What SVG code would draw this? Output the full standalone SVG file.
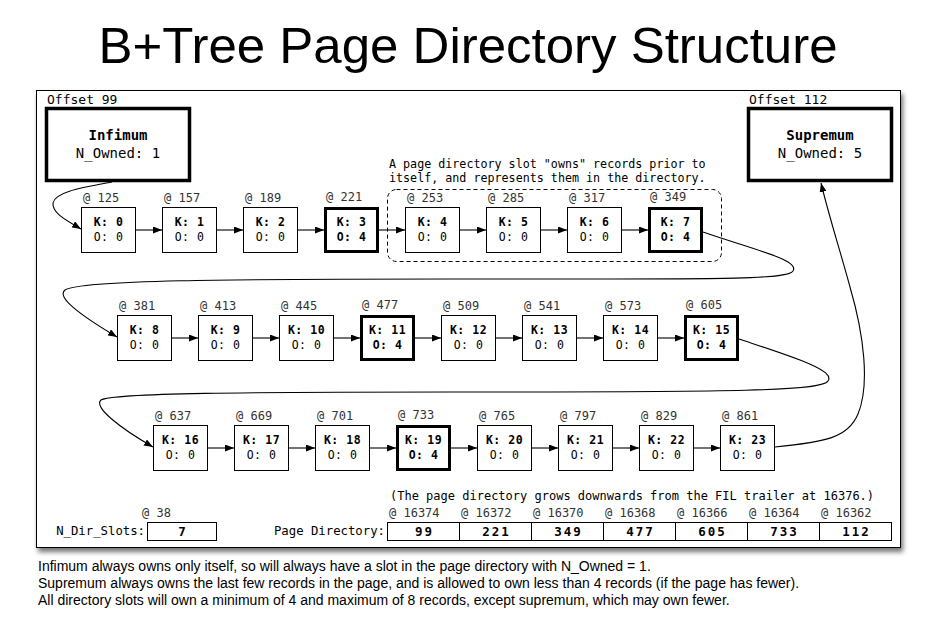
<svg xmlns="http://www.w3.org/2000/svg" width="936" height="623" viewBox="0 0 936 623">
<defs>
<marker id="ah" markerWidth="9" markerHeight="7" refX="9" refY="3.5" orient="auto" markerUnits="userSpaceOnUse"><path d="M0,0 L9,3.5 L0,7 z" fill="#000"/></marker>
<filter id="sh" x="-5%" y="-5%" width="110%" height="115%"><feDropShadow dx="2" dy="4" stdDeviation="2.5" flood-color="#000" flood-opacity="0.55"/></filter>
<style>
.m{font-family:"DejaVu Sans Mono","Liberation Mono",monospace;fill:#000}
.lab{font-size:12px;fill:#333}
.off{font-size:13px}
.big{font-size:14px;text-anchor:middle}
.kt{font-size:11.5px;font-weight:bold;text-anchor:middle;letter-spacing:0.5px}
.ot{font-size:11.5px;text-anchor:middle;letter-spacing:0.5px}
.ob{font-size:11.5px;font-weight:bold;text-anchor:middle;letter-spacing:0.5px}
.rec{fill:#fff;stroke:#000;stroke-width:1}
.recb{fill:#fff;stroke:#000;stroke-width:3}
.hdr{fill:#fff;stroke:#000;stroke-width:3.5}
.cell{fill:#fff;stroke:#000;stroke-width:1}
.val{font-size:12.5px;font-weight:bold;text-anchor:middle;letter-spacing:2px}
.con{fill:none;stroke:#000;stroke-width:1.1}
.s{font-family:"Liberation Sans",Arial,sans-serif;fill:#000}
</style>
</defs>
<rect width="936" height="623" fill="#fff"/>
<text class="s" x="468" y="63" font-size="50" text-anchor="middle" textLength="739" lengthAdjust="spacingAndGlyphs">B+Tree Page Directory Structure</text>
<rect x="36.5" y="90.5" width="864" height="457" fill="#fff" stroke="#000" stroke-width="1" filter="url(#sh)"/>

<g id="infimum">
<text class="m off" x="47" y="104">Offset 99</text>
<rect class="hdr" x="46.5" y="108.5" width="143" height="72"/>
<text class="m big" x="118" y="140" font-weight="bold">Infimum</text>
<text class="m big" x="118" y="158">N_Owned: 1</text>
</g>
<g id="supremum">
<text class="m off" x="749" y="104">Offset 112</text>
<rect class="hdr" x="748.5" y="108.5" width="143" height="72"/>
<text class="m big" x="820" y="140" font-weight="bold">Supremum</text>
<text class="m big" x="820" y="158">N_Owned: 5</text>
</g>

<g id="annotation">
<rect x="387.5" y="189.5" width="334" height="72" rx="9" fill="none" stroke="#000" stroke-width="1" stroke-dasharray="4,3"/>
<text class="m" x="389" y="168" font-size="11.7">A page directory slot "owns" records prior to</text>
<text class="m" x="389" y="182" font-size="11.7">itself, and represents them in the directory.</text>
</g>

<g id="r0"><text class="m lab" x="83" y="202">@ 125</text><rect class="rec" x="81.5" y="207.5" width="54" height="45"/><text class="m kt" x="108.5" y="226">K: 0</text><text class="m ot" x="108.5" y="241">O: 0</text></g>
<g id="r1"><text class="m lab" x="164" y="202">@ 157</text><rect class="rec" x="162.5" y="207.5" width="54" height="45"/><text class="m kt" x="189.5" y="226">K: 1</text><text class="m ot" x="189.5" y="241">O: 0</text></g>
<g id="r2"><text class="m lab" x="245" y="202">@ 189</text><rect class="rec" x="243.5" y="207.5" width="54" height="45"/><text class="m kt" x="270.5" y="226">K: 2</text><text class="m ot" x="270.5" y="241">O: 0</text></g>
<g id="r3"><text class="m lab" x="326" y="201">@ 221</text><rect class="recb" x="325.5" y="208.5" width="52" height="43"/><text class="m kt" x="351.5" y="226">K: 3</text><text class="m ob" x="351.5" y="241">O: 4</text></g>
<g id="r4"><text class="m lab" x="407" y="202">@ 253</text><rect class="rec" x="405.5" y="207.5" width="54" height="45"/><text class="m kt" x="432.5" y="226">K: 4</text><text class="m ot" x="432.5" y="241">O: 0</text></g>
<g id="r5"><text class="m lab" x="488" y="202">@ 285</text><rect class="rec" x="486.5" y="207.5" width="54" height="45"/><text class="m kt" x="513.5" y="226">K: 5</text><text class="m ot" x="513.5" y="241">O: 0</text></g>
<g id="r6"><text class="m lab" x="569" y="202">@ 317</text><rect class="rec" x="567.5" y="207.5" width="54" height="45"/><text class="m kt" x="594.5" y="226">K: 6</text><text class="m ot" x="594.5" y="241">O: 0</text></g>
<g id="r7"><text class="m lab" x="650" y="201">@ 349</text><rect class="recb" x="649.5" y="208.5" width="52" height="43"/><text class="m kt" x="675.5" y="226">K: 7</text><text class="m ob" x="675.5" y="241">O: 4</text></g>

<g id="r8"><text class="m lab" x="119" y="310">@ 381</text><rect class="rec" x="117.5" y="315.5" width="54" height="45"/><text class="m kt" x="144.5" y="334">K: 8</text><text class="m ot" x="144.5" y="349">O: 0</text></g>
<g id="r9"><text class="m lab" x="200" y="310">@ 413</text><rect class="rec" x="198.5" y="315.5" width="54" height="45"/><text class="m kt" x="225.5" y="334">K: 9</text><text class="m ot" x="225.5" y="349">O: 0</text></g>
<g id="r10"><text class="m lab" x="281" y="310">@ 445</text><rect class="rec" x="279.5" y="315.5" width="54" height="45"/><text class="m kt" x="306.5" y="334">K: 10</text><text class="m ot" x="306.5" y="349">O: 0</text></g>
<g id="r11"><text class="m lab" x="362" y="309">@ 477</text><rect class="recb" x="361.5" y="316.5" width="52" height="43"/><text class="m kt" x="387.5" y="334">K: 11</text><text class="m ob" x="387.5" y="349">O: 4</text></g>
<g id="r12"><text class="m lab" x="443" y="310">@ 509</text><rect class="rec" x="441.5" y="315.5" width="54" height="45"/><text class="m kt" x="468.5" y="334">K: 12</text><text class="m ot" x="468.5" y="349">O: 0</text></g>
<g id="r13"><text class="m lab" x="524" y="310">@ 541</text><rect class="rec" x="522.5" y="315.5" width="54" height="45"/><text class="m kt" x="549.5" y="334">K: 13</text><text class="m ot" x="549.5" y="349">O: 0</text></g>
<g id="r14"><text class="m lab" x="605" y="310">@ 573</text><rect class="rec" x="603.5" y="315.5" width="54" height="45"/><text class="m kt" x="630.5" y="334">K: 14</text><text class="m ot" x="630.5" y="349">O: 0</text></g>
<g id="r15"><text class="m lab" x="686" y="309">@ 605</text><rect class="recb" x="685.5" y="316.5" width="52" height="43"/><text class="m kt" x="711.5" y="334">K: 15</text><text class="m ob" x="711.5" y="349">O: 4</text></g>

<g id="r16"><text class="m lab" x="155" y="420">@ 637</text><rect class="rec" x="153.5" y="425.5" width="54" height="45"/><text class="m kt" x="180.5" y="444">K: 16</text><text class="m ot" x="180.5" y="459">O: 0</text></g>
<g id="r17"><text class="m lab" x="236" y="420">@ 669</text><rect class="rec" x="234.5" y="425.5" width="54" height="45"/><text class="m kt" x="261.5" y="444">K: 17</text><text class="m ot" x="261.5" y="459">O: 0</text></g>
<g id="r18"><text class="m lab" x="317" y="420">@ 701</text><rect class="rec" x="315.5" y="425.5" width="54" height="45"/><text class="m kt" x="342.5" y="444">K: 18</text><text class="m ot" x="342.5" y="459">O: 0</text></g>
<g id="r19"><text class="m lab" x="398" y="419">@ 733</text><rect class="recb" x="397.5" y="426.5" width="52" height="43"/><text class="m kt" x="423.5" y="444">K: 19</text><text class="m ob" x="423.5" y="459">O: 4</text></g>
<g id="r20"><text class="m lab" x="479" y="420">@ 765</text><rect class="rec" x="477.5" y="425.5" width="54" height="45"/><text class="m kt" x="504.5" y="444">K: 20</text><text class="m ot" x="504.5" y="459">O: 0</text></g>
<g id="r21"><text class="m lab" x="560" y="420">@ 797</text><rect class="rec" x="558.5" y="425.5" width="54" height="45"/><text class="m kt" x="585.5" y="444">K: 21</text><text class="m ot" x="585.5" y="459">O: 0</text></g>
<g id="r22"><text class="m lab" x="641" y="420">@ 829</text><rect class="rec" x="639.5" y="425.5" width="54" height="45"/><text class="m kt" x="666.5" y="444">K: 22</text><text class="m ot" x="666.5" y="459">O: 0</text></g>
<g id="r23"><text class="m lab" x="722" y="420">@ 861</text><rect class="rec" x="720.5" y="425.5" width="54" height="45"/><text class="m kt" x="747.5" y="444">K: 23</text><text class="m ot" x="747.5" y="459">O: 0</text></g>

<g id="connectors">
<path class="con" marker-end="url(#ah)" d="M112,182 C80,188 55,192 53,203 C52,213 66,220 81,229"/>
<path class="con" marker-end="url(#ah)" d="M136,230 H162"/>
<path class="con" marker-end="url(#ah)" d="M217,230 H243"/>
<path class="con" marker-end="url(#ah)" d="M298,230 H324"/>
<path class="con" marker-end="url(#ah)" d="M379,230 H405"/>
<path class="con" marker-end="url(#ah)" d="M460,230 H486"/>
<path class="con" marker-end="url(#ah)" d="M541,230 H567"/>
<path class="con" marker-end="url(#ah)" d="M622,230 H648"/>
<path class="con" marker-end="url(#ah)" d="M703,232 C755,250 800,260 793,271 C788,280 720,279 450,279 C230,279 80,280 65,290 C56,297 80,315 117,337"/>
<path class="con" marker-end="url(#ah)" d="M172,338 H198"/>
<path class="con" marker-end="url(#ah)" d="M253,338 H279"/>
<path class="con" marker-end="url(#ah)" d="M334,338 H360"/>
<path class="con" marker-end="url(#ah)" d="M415,338 H441"/>
<path class="con" marker-end="url(#ah)" d="M496,338 H522"/>
<path class="con" marker-end="url(#ah)" d="M577,338 H603"/>
<path class="con" marker-end="url(#ah)" d="M658,338 H684"/>
<path class="con" marker-end="url(#ah)" d="M739,339 C790,356 836,370 828,381 C822,391 740,392 450,392 C250,392 112,393 101,400 C93,407 120,428 153,447"/>
<path class="con" marker-end="url(#ah)" d="M208,448 H234"/>
<path class="con" marker-end="url(#ah)" d="M289,448 H315"/>
<path class="con" marker-end="url(#ah)" d="M370,448 H396"/>
<path class="con" marker-end="url(#ah)" d="M451,448 H477"/>
<path class="con" marker-end="url(#ah)" d="M532,448 H558"/>
<path class="con" marker-end="url(#ah)" d="M613,448 H639"/>
<path class="con" marker-end="url(#ah)" d="M694,448 H720"/>
<path class="con" marker-end="url(#ah)" d="M775,447 C825,442 848,438 858,414 C870,385 864,335 850,287 C840,250 830,220 821,183"/>
</g>

<g id="n_dir_slots">
<text class="m lab" x="142" y="517">@ 38</text>
<text class="m" x="145" y="535" font-size="12.3" text-anchor="end">N_Dir_Slots:</text>
<rect class="cell" x="147.5" y="522.5" width="69" height="18"/>
<text class="m val" x="183" y="536">7</text>
</g>

<g id="page_directory">
<text class="m" x="390" y="500" font-size="12">(The page directory grows downwards from the FIL trailer at 16376.)</text>
<text class="m" x="385" y="535" font-size="12.3" text-anchor="end">Page Directory:</text>
<rect class="cell" x="387.5" y="522.5" width="504" height="18"/>
<path d="M459.5,522.5 V540.5 M531.5,522.5 V540.5 M603.5,522.5 V540.5 M675.5,522.5 V540.5 M747.5,522.5 V540.5 M819.5,522.5 V540.5" stroke="#000" stroke-width="1" fill="none"/>
<text class="m lab" x="389" y="517">@ 16374</text>
<text class="m lab" x="461" y="517">@ 16372</text>
<text class="m lab" x="533" y="517">@ 16370</text>
<text class="m lab" x="605" y="517">@ 16368</text>
<text class="m lab" x="677" y="517">@ 16366</text>
<text class="m lab" x="749" y="517">@ 16364</text>
<text class="m lab" x="821" y="517">@ 16362</text>
<text class="m val" x="424.5" y="536">99</text>
<text class="m val" x="496.5" y="536">221</text>
<text class="m val" x="568.5" y="536">349</text>
<text class="m val" x="640.5" y="536">477</text>
<text class="m val" x="712.5" y="536">605</text>
<text class="m val" x="784.5" y="536">733</text>
<text class="m val" x="856.5" y="536">112</text>
</g>

<g id="notes">
<text class="s" x="38" y="571" font-size="14">Infimum always owns only itself, so will always have a slot in the page directory with N_Owned = 1.</text>
<text class="s" x="38" y="588" font-size="14">Supremum always owns the last few records in the page, and is allowed to own less than 4 records (if the page has fewer).</text>
<text class="s" x="38" y="605" font-size="14">All directory slots will own a minimum of 4 and maximum of 8 records, except supremum, which may own fewer.</text>
</g>
</svg>
